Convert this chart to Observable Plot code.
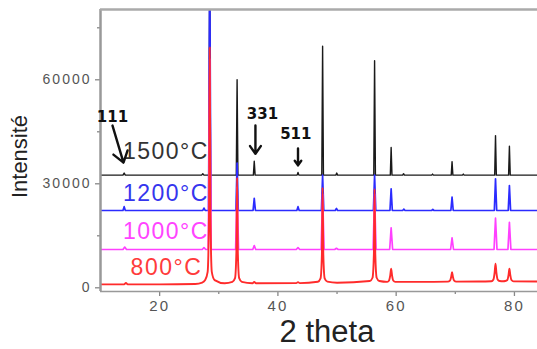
<!DOCTYPE html>
<html><head><meta charset="utf-8">
<script src="https://cdn.jsdelivr.net/npm/d3@7"></script>
<script src="https://cdn.jsdelivr.net/npm/@observablehq/plot@0.6"></script>
<style>body{margin:0;background:#fff} svg{display:block}</style>
</head><body><div id="chart"></div>
<script>
// ---- data ----
const xDomain = [10, 83.9];
const yDomain = [-1067, 80277];
const xTicks = [20, 40, 60, 80];
const xMinorTicks = [30, 50, 70];
const yTicks = [0, 30000, 60000];
const yMinorTicks = [15000, 45000, 75000];

const seriesNames = ["1500°C", "1200°C", "1000°C", "800°C"];
const seriesColors = ["#1a1a1a", "#2b2bff", "#ff40ff", "#ff2b2b"];
const labelColors = ["#333333", "#3535ee", "#ff44ff", "#ff3b3b"];
const labelX = [21.06, 21.06, 21.06, 21.15];
const labelY = [39300, 27100, 16300, 5700];

// 2theta, intensity
const xrd1500 = [[10,32500],[13.8,32500],[14.0,33100],[14.2,32500],[27.1,32500],[27.3,32900],[27.5,32500],[28.33,32500],[28.47,95000],[28.61,32500],[32.96,32500],[33.1,60000],[33.24,32500],[35.85,32500],[36.0,36500],[36.15,32500],[43.25,32500],[43.4,33300],[43.55,32500],[47.42,32500],[47.56,69700],[47.7,32500],[49.8,32500],[49.95,33100],[50.1,32500],[56.21,32500],[56.35,65500],[56.49,32500],[59.01,32500],[59.15,40500],[59.29,32500],[61.1,32500],[61.25,32900],[61.4,32500],[66.0,32500],[66.15,32800],[66.3,32500],[69.31,32500],[69.45,36400],[69.59,32500],[71.2,32500],[71.35,32800],[71.5,32500],[76.66,32500],[76.8,43900],[76.94,32500],[79.01,32500],[79.15,40850],[79.29,32500],[84,32500]];

const xrd1200 = [[10,22300],[13.8,22300],[14.0,23400],[14.2,22300],[27.3,22300],[27.5,23000],[27.7,22300],[28.27,22300],[28.47,95000],[28.67,22300],[32.9,22300],[33.1,36000],[33.3,22300],[35.8,22300],[36.0,25800],[36.2,22300],[43.2,22300],[43.4,23400],[43.6,22300],[47.36,22300],[47.56,32500],[47.76,22300],[49.7,22300],[49.9,22900],[50.1,22300],[56.15,22300],[56.35,32500],[56.55,22300],[58.95,22300],[59.15,28560],[59.35,22300],[61.1,22300],[61.3,22700],[61.5,22300],[66.0,22300],[66.2,22600],[66.4,22300],[69.25,22300],[69.45,26140],[69.65,22300],[76.6,22300],[76.8,31440],[77.0,22300],[78.95,22300],[79.15,29500],[79.35,22300],[84,22300]];

const xrd1000 = [[10,11050],[13.8,11050],[14.1,11750],[14.4,11050],[27.2,11050],[27.5,11600],[27.8,11050],[28.22,11050],[28.47,66000],[28.72,11050],[32.85,11050],[33.1,29000],[33.35,11050],[35.75,11050],[36.0,12200],[36.25,11050],[43.1,11050],[43.4,11600],[43.7,11050],[47.31,11050],[47.56,27000],[47.81,11050],[49.6,11050],[49.9,11400],[50.2,11050],[56.1,11050],[56.35,27000],[56.6,11050],[58.9,11050],[59.15,17300],[59.4,11050],[69.2,11050],[69.45,14420],[69.7,11050],[76.55,11050],[76.8,20080],[77.05,11050],[78.9,11050],[79.15,18900],[79.4,11050],[84,11050]];

const xrd800 = [[10,1000],[14.0,1000],[14.3,1400],[14.6,1000],[20,1000],[26,1100],[27.2,1500],[27.7,2220],[28.12,4600],[28.35,21630],[28.47,69300],[28.59,21630],[28.82,4600],[29.3,2220],[31,1300],[32.3,1710],[32.75,2780],[32.98,10415],[33.1,31800],[33.22,10415],[33.45,2780],[33.9,1710],[35.7,1300],[36.0,1700],[36.3,1300],[43.1,1350],[43.4,1650],[43.7,1350],[46.76,1763],[47.21,2728],[47.44,9615],[47.56,28900],[47.68,9615],[47.91,2728],[48.36,1763],[50,1450],[55.55,1954],[56.0,2898],[56.23,9635],[56.35,28500],[56.47,9635],[56.7,2898],[57.15,1954],[58.5,1710],[58.8,2110],[59.0,3565],[59.15,5480],[59.3,3565],[59.5,2110],[59.85,1710],[64,1700],[68.75,1790],[69.1,2080],[69.3,3125],[69.45,4500],[69.6,3125],[69.8,2080],[70.15,1790],[74,1800],[76.1,1880],[76.45,2415],[76.65,4360],[76.8,6920],[76.95,4360],[77.15,2415],[77.5,1950],[78.1,1900],[78.45,1950],[78.8,2240],[79.0,3640],[79.15,5480],[79.3,3640],[79.5,2240],[79.85,1860],[84,1800]];

const hklLabels = ["111", "331", "511"];
const hklX = [12.03, 37.38, 43.03];
const hklY = [49100, 50000, 44200];
const arrowX1 = [12.03, 36.2, 43.4];
const arrowY1 = [46800, 46800, 40200];
const arrowX2 = [13.89, 36.2, 43.4];
const arrowY2 = [36100, 38650, 35300];

// ---- build ----
const allSeries = [xrd1500, xrd1200, xrd1000, xrd800];
const labelRows = seriesNames.map((n, i) => ({name: n, x: labelX[i], y: labelY[i], color: labelColors[i]}));
const hklRows = hklLabels.map((t, i) => ({t, x: hklX[i], y: hklY[i]}));
const arrowRows = arrowX1.map((x1, i) => ({x1, y1: arrowY1[i], x2: arrowX2[i], y2: arrowY2[i]}));

const lineMarks = allSeries.map((s, i) => Plot.line(s, {
  x: d => d[0], y: d => d[1], stroke: seriesColors[i],
  strokeWidth: i === 0 ? 1.4 : (i === 3 ? 1.9 : 1.7), clip: true,
  curve: i === 3 ? "monotone-x" : "linear"
}));

const plot = Plot.plot({
  width: 537, height: 349,
  marginLeft: 100, marginRight: 0, marginTop: 9, marginBottom: 58,
  style: {fontFamily: "'Liberation Sans', Arial, sans-serif", background: "#fff"},
  x: {domain: xDomain},
  y: {domain: yDomain},
  marks: [
    Plot.axisY({ticks: yTicks, tickSize: 5, tickPadding: 4, label: null, fontSize: 14, tickFormat: d => String(d)}),
    Plot.axisY({ticks: yMinorTicks, tickSize: 3, label: null, tickFormat: () => ""}),
    Plot.axisX({ticks: xTicks, tickSize: 5, tickPadding: 4, label: null, fontSize: 15, tickFormat: d => String(d)}),
    Plot.axisX({ticks: xMinorTicks, tickSize: 3, label: null, tickFormat: () => ""}),
    ...lineMarks,
    Plot.ruleX([xDomain[0]], {stroke: "#999", strokeWidth: 2.5}),
    Plot.ruleY([yDomain[1]], {stroke: "#aaa", strokeWidth: 2.5}),
    Plot.ruleY([yDomain[0]], {stroke: "#999", strokeWidth: 1.5}),
    Plot.text(labelRows, {x: "x", y: "y", text: "name", fill: "color", fontSize: 23, textAnchor: "middle", lineAnchor: "middle"}),
    Plot.text(hklRows, {x: "x", y: "y", text: "t", fill: "#111", fontSize: 15, fontWeight: "bold", fontFamily: "DejaVu Sans", textAnchor: "middle", lineAnchor: "middle"}),
    Plot.arrow(arrowRows, {x1: "x1", y1: "y1", x2: "x2", y2: "y2", stroke: "#111", strokeWidth: 2.4, headLength: 9, headAngle: 70})
  ]
});

const svg = d3.select(plot);
svg.selectAll("g[aria-label='y-axis tick label'] text, g[aria-label='x-axis tick label'] text")
  .attr("letter-spacing", "2px").attr("fill", "#555");
svg.selectAll("g[aria-label='y-axis tick'] path, g[aria-label='x-axis tick'] path").attr("stroke", "#888").attr("stroke-width", 1.3);
// temperature labels slightly stretched like the reference
svg.selectAll("g[aria-label='text']").filter((d, i) => i === 0).selectAll("text").attr("letter-spacing", "1.5px");

svg.append("text").attr("x", 327).attr("y", 342).attr("text-anchor", "middle")
  .attr("font-size", 31).attr("fill", "#222").attr("font-family", "'Liberation Sans', Arial, sans-serif").text("2 theta");
svg.append("text").attr("transform", "translate(27,156.5) rotate(-90)").attr("text-anchor", "middle")
  .attr("font-size", 22).attr("fill", "#222").attr("font-family", "'Liberation Sans', Arial, sans-serif").text("Intensité");

document.getElementById("chart").appendChild(plot);
</script>
</body></html>
